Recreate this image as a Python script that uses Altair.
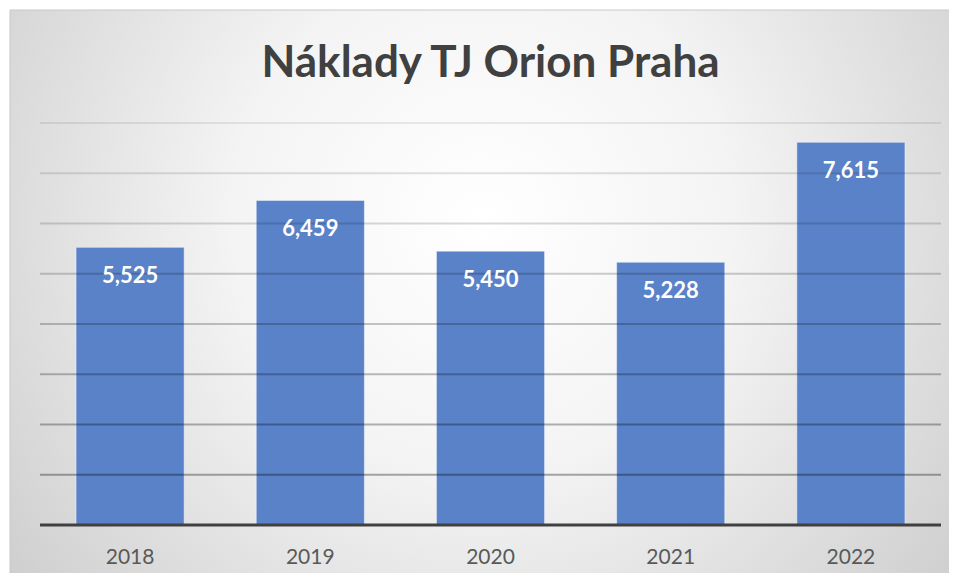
import altair as alt
import pandas as pd

years = ["2018", "2019", "2020", "2021", "2022"]
costs = [5525, 6459, 5450, 5228, 7615]
grid_values = [1000, 2000, 3000, 4000, 5000, 6000, 7000, 8000]
title_text = "Náklady TJ Orion Praha"

W, H = 901, 402

df = pd.DataFrame({"year": years, "cost": costs})
grid_df = pd.DataFrame({"v": grid_values})
one = pd.DataFrame({"a": [0]})
title_df = pd.DataFrame({"t": [title_text]})

xscale = alt.Scale(domain=years, paddingInner=0.4, paddingOuter=0.2)
yscale = alt.Scale(domain=[0, 8000], nice=False, zero=True)

bg_gradient = alt.RadialGradient(
    gradient="radial",
    x1=0.5, y1=0.42, r1=0,
    x2=0.5, y2=0.42, r2=0.75,
    stops=[
        alt.GradientStop(offset=0, color="#ffffff"),
        alt.GradientStop(offset=0.35, color="#f4f4f4"),
        alt.GradientStop(offset=1, color="#c2c2c2"),
    ],
)

background = alt.Chart(one).mark_rect(
    fill=bg_gradient, stroke="#c8c8c8", strokeWidth=1
).encode(
    x=alt.value(-30), x2=alt.value(915), y=alt.value(-113), y2=alt.value(460)
)

bars = alt.Chart(df).mark_bar(
    color="#5a82c8", stroke="#ffffff", strokeOpacity=0.45, strokeWidth=1
).encode(
    x=alt.X("year:N", scale=xscale, sort=years,
            axis=alt.Axis(title=None, labelFont="Lato", labelFontSize=21,
                          labelColor="#595959", labelAngle=0, ticks=False,
                          domain=False, labelPadding=21, grid=False, zindex=2)),
    y=alt.Y("cost:Q", scale=yscale, axis=None),
)

grid = alt.Chart(grid_df).mark_rule(strokeWidth=2, color="#000000").encode(
    y=alt.Y("v:Q", scale=yscale),
    x=alt.value(0), x2=alt.value(W),
    opacity=alt.Opacity("v:Q", scale=alt.Scale(domain=[1000, 8000], range=[0.33, 0.08]), legend=None),
)

baseline = alt.Chart(one).mark_rule(strokeWidth=3, color="#404040").encode(
    y=alt.datum(0, scale=yscale), x=alt.value(0), x2=alt.value(W)
)

labels = alt.Chart(df).mark_text(
    font="Lato", fontWeight="bold", fontSize=22, color="#ffffff",
    baseline="middle", dy=29
).encode(
    x=alt.X("year:N", scale=xscale, sort=years),
    y=alt.Y("cost:Q", scale=yscale),
    text=alt.Text("cost:Q", format=","),
)

title = alt.Chart(title_df).mark_text(
    font="Lato", fontWeight="bold", fontSize=44, color="#404040",
    align="center", baseline="alphabetic"
).encode(
    x=alt.value(W / 2), y=alt.value(-46), text="t:N"
)

chart = alt.layer(background, bars, grid, baseline, labels, title).properties(
    width=W, height=H,
    autosize=alt.AutoSizeParams(type="none"),
    padding={"left": 32, "top": 115, "right": 8, "bottom": 48},
).configure_view(strokeWidth=0).configure(background="#ffffff")

chart.save("out.html", embed_options={"renderer": "svg", "actions": False})
